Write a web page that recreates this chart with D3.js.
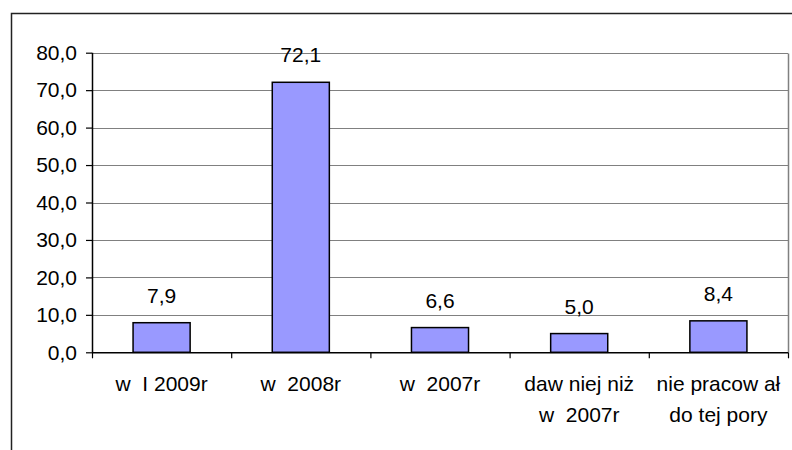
<!DOCTYPE html>
<html><head><meta charset="utf-8">
<script src="https://cdn.jsdelivr.net/npm/d3@7"></script>
<style>html,body{margin:0;padding:0;background:#fff;}svg{display:block;}text{font-family:"Liberation Sans",Arial,sans-serif;fill:#000;}</style>
</head><body>
<script>
const categories = [["w  I 2009r"], ["w  2008r"], ["w  2007r"], ["daw niej niż", "w  2007r"], ["nie pracow ał", "do tej pory"]];
const values = [7.9, 72.1, 6.6, 5.0, 8.4];
const yTicks = [0, 10, 20, 30, 40, 50, 60, 70, 80];

const W = 792, H = 450;
const M = {left: 92, right: 788, top: 52.7, bottom: 352.3};
const FS = "21px";
const loc = d3.formatLocale({decimal: ",", thousands: " ", grouping: [3], currency: ["", ""]});
const fmt = loc.format(".1f");

const svg = d3.select("body").append("svg").attr("width", W).attr("height", H);

// outer chart border
svg.append("path").attr("d", `M11.5,${H}V13.5H${W}`).attr("fill", "none").attr("stroke", "#222").attr("stroke-width", 1.5);

const x = d3.scaleBand().domain(d3.range(values.length)).range([M.left, M.right]).padding(0);
const y = d3.scaleLinear().domain([0, 80]).range([M.bottom, M.top]);

// gridlines
svg.append("g").selectAll("line").data(yTicks.filter(t => t > 0)).join("line")
  .attr("x1", M.left).attr("x2", M.right)
  .attr("y1", d => Math.round(y(d)) + 0.5).attr("y2", d => Math.round(y(d)) + 0.5)
  .attr("stroke", "#808080").attr("stroke-width", 1);

// plot area right border
svg.append("line").attr("x1", M.right + 0.5).attr("x2", M.right + 0.5)
  .attr("y1", Math.round(y(80)) + 0.5).attr("y2", M.bottom)
  .attr("stroke", "#808080").attr("stroke-width", 1.5);

// bars
const bw = x.bandwidth() * 0.41;
svg.append("g").selectAll("rect").data(values).join("rect")
  .attr("x", (d, i) => x(i) + x.bandwidth() / 2 - bw / 2)
  .attr("width", bw)
  .attr("y", d => y(d))
  .attr("height", d => y(0) - y(d))
  .attr("fill", "#9999FF").attr("stroke", "#000").attr("stroke-width", 1.5);

// value labels
svg.append("g").selectAll("text").data(values).join("text")
  .attr("x", (d, i) => x(i) + x.bandwidth() / 2)
  .attr("y", d => y(d) - 20)
  .attr("text-anchor", "middle").style("font-size", FS)
  .text(d => fmt(d));

// y axis
const yAxis = svg.append("g").attr("transform", `translate(${M.left},0)`)
  .call(d3.axisLeft(y).tickValues(yTicks).tickSize(6).tickPadding(9).tickFormat(fmt));
yAxis.attr("font-size", null).attr("font-family", null);
yAxis.select(".domain").attr("stroke", "#000").attr("stroke-width", 1.5).attr("d", `M0.5,${M.top}V${M.bottom}`);
yAxis.selectAll(".tick line").attr("stroke", "#000").attr("stroke-width", 1.2);
yAxis.selectAll(".tick text").style("font-size", FS);

// x axis
const xb = d3.scaleLinear().domain([0, values.length]).range([M.left, M.right]);
const xAxis = svg.append("g").attr("transform", `translate(0,${M.bottom})`)
  .call(d3.axisBottom(xb).ticks(values.length).tickSize(6).tickFormat(""));
xAxis.select(".domain").attr("stroke", "#000").attr("stroke-width", 1.5).attr("d", `M${M.left},0.5H${M.right}`);
xAxis.selectAll(".tick line").attr("stroke", "#000").attr("stroke-width", 1.2);

// category labels
const cl = svg.append("g").selectAll("text").data(categories).join("text")
  .attr("text-anchor", "middle").style("font-size", FS).style("white-space", "pre")
  .attr("transform", (d, i) => `translate(${x(i) + x.bandwidth() / 2},390.5)`);
cl.selectAll("tspan").data(d => d).join("tspan")
  .attr("x", 0).attr("y", (d, j) => j * 31).text(d => d);
</script>
</body></html>
